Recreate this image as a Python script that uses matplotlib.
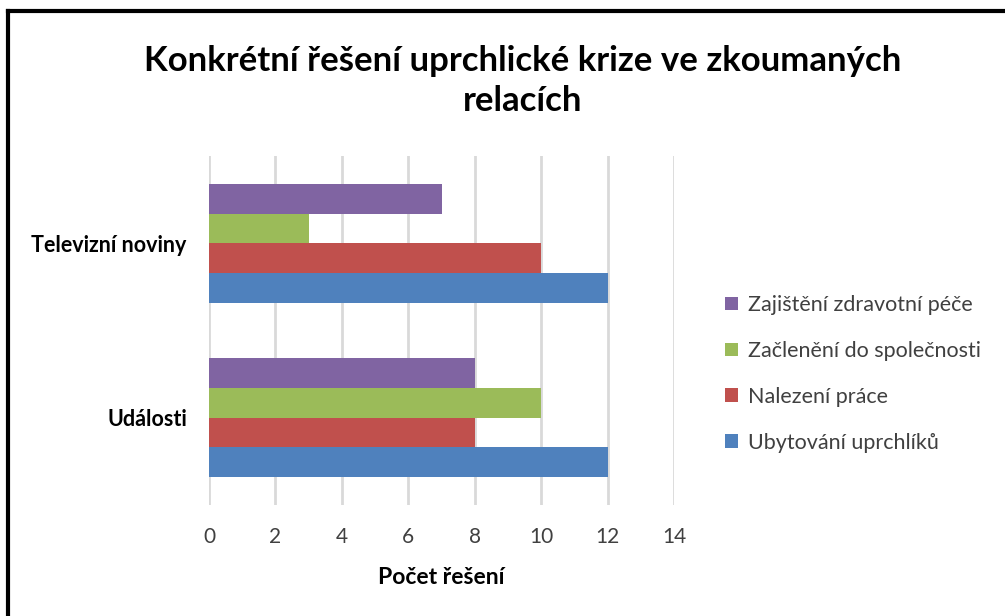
import matplotlib.pyplot as plt
import numpy as np
from matplotlib.lines import Line2D

plt.rcParams['font.family'] = ['Lato', 'DejaVu Sans']

# Data
categories = ['Události', 'Televizní noviny']
series = ['Ubytování uprchlíků', 'Nalezení práce',
          'Začlenění do společnosti', 'Zajištění zdravotní péče']
values = {
    'Ubytování uprchlíků': [12, 12],
    'Nalezení práce': [8, 10],
    'Začlenění do společnosti': [10, 3],
    'Zajištění zdravotní péče': [8, 7],
}
colors = ['#4F81BD', '#C0504D', '#9BBB59', '#8064A2']
xticks = [0, 2, 4, 6, 8, 10, 12, 14]

W, H = 1005, 616
fig = plt.figure(figsize=(W / 100, H / 100), dpi=100)
ax = fig.add_axes([209 / W, 1 - 505 / H, (674 - 209) / W, (505 - 156) / H])

y = np.arange(len(categories))
h = 0.17
for i, s in enumerate(series):
    ax.barh(y + (i - 1.5) * h, values[s], height=h, color=colors[i],
            label=s, zorder=3)

ax.set_xlim(0, 14)
ax.set_ylim(-0.5, 1.5)
ax.set_xticks(xticks)
ax.set_xticklabels([str(t) for t in xticks], fontsize=15, color='#404040')
ax.set_yticks(y)
ax.set_yticklabels(categories, fontsize=15.5, fontweight='bold', color='black')
ax.tick_params(axis='both', length=0)
ax.tick_params(axis='x', pad=16)
ax.tick_params(axis='y', pad=16)
ax.xaxis.grid(True, color='#D9D9D9', linewidth=2, zorder=0)
for sp in ax.spines.values():
    sp.set_visible(False)

ax.set_xlabel('Počet řešení', fontsize=16.5, fontweight='bold', labelpad=14)

# Title
fig.text(523 / W, 1 - 81 / H, 'Konkrétní řešení uprchlické krize ve zkoumaných\nrelacích',
         ha='center', va='center', fontsize=25, fontweight='bold',
         linespacing=1.33)

# Legend (reverse order, top = purple)
handles, labels = ax.get_legend_handles_labels()
leg = fig.legend(handles[::-1], labels[::-1], loc='center left',
                 bbox_to_anchor=(706 / W, 1 - 374 / H), frameon=False,
                 fontsize=15.5, handlelength=0.6, handleheight=0.6,
                 handletextpad=0.45, labelspacing=1.2)
for t in leg.get_texts():
    t.set_color('#404040')

# Chart border (top and left visible)
fig.add_artist(Line2D([8 / W, 8 / W], [0, 1 - 11 / H], color='black',
                      linewidth=3, transform=fig.transFigure))
fig.add_artist(Line2D([8 / W, 1], [1 - 11 / H, 1 - 11 / H], color='black',
                      linewidth=3, transform=fig.transFigure))

fig.savefig('out.png', dpi=100)
